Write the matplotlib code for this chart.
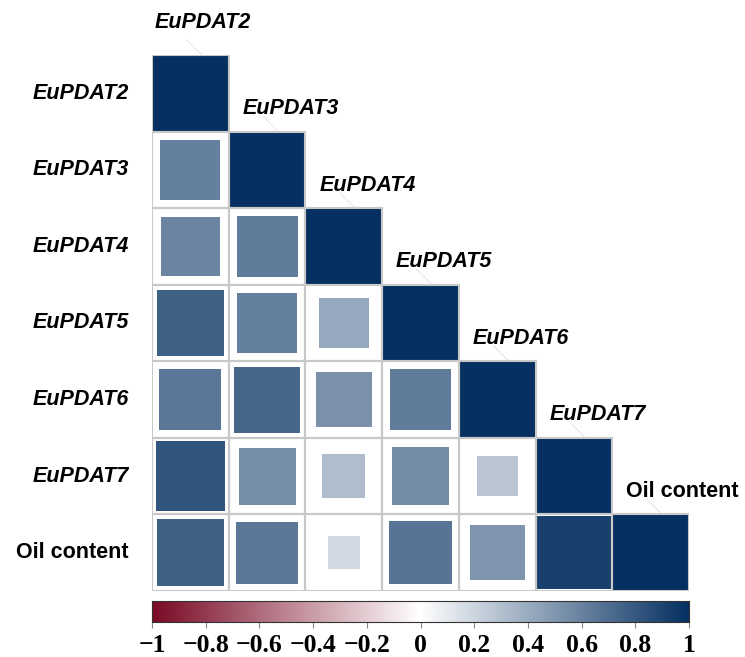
import numpy as np
import matplotlib
matplotlib.use("Agg")
import matplotlib.pyplot as plt
from matplotlib.patches import Rectangle
from matplotlib.colors import LinearSegmentedColormap

labels = ["EuPDAT2", "EuPDAT3", "EuPDAT4", "EuPDAT5", "EuPDAT6", "EuPDAT7", "Oil content"]
italic = [True, True, True, True, True, True, False]

# lower-triangle correlations, row i has i+1 values (last is diagonal)
corr_rows = [
    [1.0],
    [0.61, 1.0],
    [0.59, 0.63, 1.0],
    [0.76, 0.61, 0.42, 1.0],
    [0.65, 0.74, 0.53, 0.63, 1.0],
    [0.82, 0.55, 0.32, 0.56, 0.28, 1.0],
    [0.76, 0.65, 0.18, 0.67, 0.51, 0.92, 1.0],
]

cbar_ticks = [-1, -0.8, -0.6, -0.4, -0.2, 0, 0.2, 0.4, 0.6, 0.8, 1]
cbar_ticklabels = ["\u22121", "\u22120.8", "\u22120.6", "\u22120.4", "\u22120.2", "0",
                   "0.2", "0.4", "0.6", "0.8", "1"]

cmap = LinearSegmentedColormap.from_list("rdbu2", ["#7a0a25", "#FFFFFF", "#053061"])

W, H = 745, 657
fig = plt.figure(figsize=(W / 100, H / 100), dpi=100)
ax = fig.add_axes([152 / W, 1 - 591 / H, 537 / W, 536 / H])
n = len(labels)
ax.set_xlim(0, n)
ax.set_ylim(n, 0)
ax.axis("off")

for i, row in enumerate(corr_rows):
    for j, r in enumerate(row):
        side = 1.0 if i == j else np.sqrt(abs(r))
        c = cmap((r + 1) / 2)
        ax.add_patch(Rectangle((j + 0.5 - side / 2, i + 0.5 - side / 2), side, side,
                               facecolor=c, edgecolor="none", zorder=2))
for i in range(n):
    for j in range(i + 1):
        ax.add_patch(Rectangle((j, i), 1, 1, facecolor="none", edgecolor="#c8c8c8",
                               lw=1.5, zorder=3))

fs = 15.5
for i, lab in enumerate(labels):
    style = "italic" if italic[i] else "normal"
    ax.text(-0.3, i + 0.5, lab, ha="right", va="center", fontsize=fs,
            fontweight="bold", fontstyle=style, family="Liberation Sans",
            clip_on=False)
    dx = 0.04 if i == 0 else 0.18
    dy = -0.43 if i == 0 else -0.3
    ax.text(i + dx, i + dy, lab, ha="left", va="center", fontsize=fs,
            fontweight="bold", fontstyle=style, family="Liberation Sans",
            clip_on=False)
    ax.plot([i + 0.45, i + 0.65], [i - 0.2, i], color="#e6e6e6", lw=0.8,
            clip_on=False, zorder=1)

cax = fig.add_axes([152 / W, 1 - 622 / H, 537 / W, 21 / H])
grad = np.linspace(-1, 1, 512).reshape(1, -1)
cax.imshow(grad, cmap=cmap, vmin=-1, vmax=1, aspect="auto", extent=[-1, 1, 0, 1])
cax.set_xlim(-1, 1)
cax.set_yticks([])
cax.set_xticks(cbar_ticks)
cax.set_xticklabels(cbar_ticklabels, fontsize=18.5, fontweight="bold",
                    family="Liberation Serif")
cax.tick_params(axis="x", length=4, color="#888888", pad=5)
for s in cax.spines.values():
    s.set_linewidth(0.8)
    s.set_color("#333333")

fig.savefig("out.png", dpi=100)
